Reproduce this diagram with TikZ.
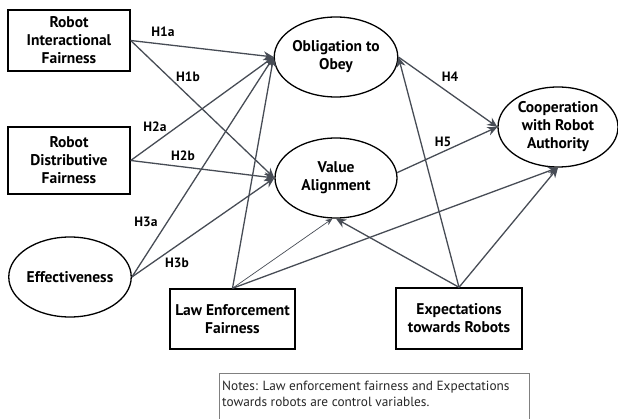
\documentclass[tikz,border=0pt]{standalone}
\usepackage{fontspec}
\setmainfont{PT Sans}
\usetikzlibrary{shapes.geometric,arrows.meta}
\definecolor{arr}{HTML}{474C55}
\tikzset{
  box/.style={draw=black,line width=1.4pt,rectangle,inner sep=0pt,align=center,font=\bfseries\fontsize{15.5}{18}\selectfont},
  ell/.style={draw=black,line width=1.3pt,ellipse,inner sep=0pt,minimum width=122pt,minimum height=80pt,align=center,font=\bfseries\fontsize{15.5}{18}\selectfont},
  link/.style={draw=arr,line width=1.3pt,-{Stealth[length=10pt,width=9pt]}},
  thin/.style={draw=arr,line width=0.7pt,-{Stealth[length=7pt,width=6pt]}},
  hlab/.style={font=\bfseries\fontsize{13.5}{15}\selectfont,inner sep=0pt}
}
\begin{document}
\begin{tikzpicture}[x=1pt,y=-1pt]
\useasboundingbox (0,0) rectangle (618,419);
\node[box,minimum width=122pt,minimum height=61pt] (rif) at (69,40.5) {Robot\\Interactional\\Fairness};
\node[box,minimum width=122pt,minimum height=67pt] (rdf) at (69,160.5) {Robot\\Distributive\\Fairness};
\node[ell] (eff) at (70,277) {Effectiveness};
\node[ell] (ob) at (336,57) {Obligation to\\Obey};
\node[ell] (va) at (336,178) {Value\\Alignment};
\node[ell,minimum width=120pt] (co) at (558,127) {Cooperation\\with Robot\\Authority};
\node[box,minimum width=125pt,minimum height=60pt] (lef) at (232.5,319) {Law Enforcement\\Fairness};
\node[box,minimum width=126pt,minimum height=61pt] (etr) at (459,318.5) {Expectations\\towards Robots};
\draw[draw=gray,line width=0.8pt] (219,430) |- (529,373) -- (529,430);
\node[anchor=north west,align=left,inner sep=0pt,font=\fontsize{13.3}{15.5}\selectfont,text=black!85] (notes) at (222,381) {Notes: Law enforcement fairness and Expectations\\towards robots are control variables.};
\coordinate (obw) at (ob.west);
\coordinate (vaw) at (va.west);
\draw[link] (rif.east) -- (obw);
\draw[link] (rif.east) -- (vaw);
\draw[link] (rdf.east) -- (obw);
\draw[link] (rdf.east) -- (vaw);
\draw[link] (eff.east) -- (obw);
\draw[link] (eff.east) -- (vaw);
\draw[link] (lef.north) -- (obw);
\draw[thin] (lef.north) -- (va.265);
\draw[link] (lef.north) -- (co.south);
\draw[link] (etr.north) -- (ob.east);
\draw[link] (etr.north) -- (va.south);
\draw[link] (etr.north) -- (co.south);
\draw[link] (ob.east) -- (co.west);
\draw[link] (va.5) -- (co.west);
\node[hlab] (h1a) at (163,32) {H1a};
\node[hlab] (h1b) at (188,77) {H1b};
\node[hlab] (h2a) at (155,127) {H2a};
\node[hlab] (h2b) at (183,156) {H2b};
\node[hlab] (h3a) at (146,222) {H3a};
\node[hlab] (h3b) at (177,263) {H3b};
\node[hlab] (h4) at (450,77) {H4};
\node[hlab] (h5) at (443,142) {H5};
\end{tikzpicture}
\end{document}
